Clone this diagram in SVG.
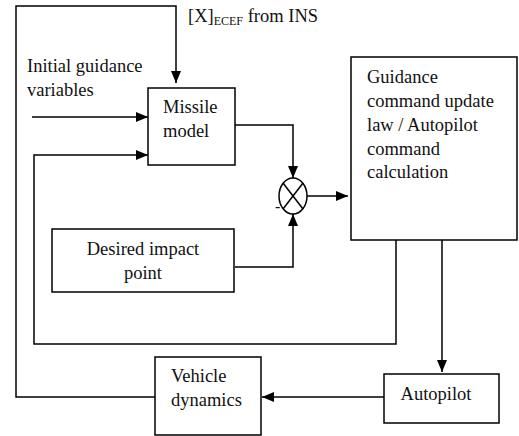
<svg xmlns="http://www.w3.org/2000/svg" width="519" height="436" viewBox="0 0 519 436">
<style>
.box{fill:#fff;stroke:#000;stroke-width:1.5}
.ln{fill:none;stroke:#000;stroke-width:1.5}
text{font-family:'Liberation Serif','Times New Roman','DejaVu Serif',serif;font-size:18.5px;fill:#111}
</style>
<defs>
<marker id="ah" markerWidth="12" markerHeight="10" refX="12" refY="5" orient="auto" markerUnits="userSpaceOnUse">
<path d="M0,0 L12,5 L0,10 Z" fill="#000"/>
</marker>
</defs>
<rect width="519" height="436" fill="#fff"/>
<g id="connectors">
<polyline class="ln" points="155,397 16,397 16,6 176,6 176,83" marker-end="url(#ah)"/>
<line class="ln" x1="32" y1="117" x2="148" y2="117" marker-end="url(#ah)"/>
<polyline class="ln" points="396,240 396,344 34,344 34,155 148,155" marker-end="url(#ah)"/>
<polyline class="ln" points="235,125 293,125 293,178" marker-end="url(#ah)"/>
<polyline class="ln" points="235,267 293,267 293,214" marker-end="url(#ah)"/>
<line class="ln" x1="307" y1="196" x2="348" y2="196" marker-end="url(#ah)"/>
<line class="ln" x1="442" y1="240" x2="442" y2="372" marker-end="url(#ah)"/>
<line class="ln" x1="384" y1="397" x2="262" y2="397" marker-end="url(#ah)"/>
<text x="188" y="22">[X]<tspan style="font-size:12px" dy="3">ECEF</tspan><tspan dy="-3"> from INS</tspan></text>
<text x="27" y="72">Initial guidance</text>
<text x="27" y="96">variables</text>
</g>
<g id="missile-model">
<rect class="box" x="148" y="88" width="87" height="77"/>
<text x="163" y="113">Missile</text>
<text x="163" y="137">model</text>
</g>
<g id="sum">
<ellipse class="ln" cx="293" cy="196" rx="14" ry="18"/>
<line class="ln" x1="283" y1="183" x2="303" y2="209"/>
<line class="ln" x1="303" y1="183" x2="283" y2="209"/>
<text x="275" y="212" style="font-size:16px">-</text>
</g>
<g id="desired-impact">
<rect class="box" x="52" y="229" width="182" height="63"/>
<text x="143" y="255" text-anchor="middle">Desired impact</text>
<text x="143" y="279" text-anchor="middle">point</text>
</g>
<g id="guidance">
<rect class="box" x="351" y="57" width="166" height="183"/>
<text x="367" y="83">Guidance</text>
<text x="367" y="107">command update</text>
<text x="367" y="131">law / Autopilot</text>
<text x="367" y="155">command</text>
<text x="367" y="178">calculation</text>
</g>
<g id="autopilot">
<rect class="box" x="384" y="374" width="115" height="49"/>
<text x="436" y="400" text-anchor="middle">Autopilot</text>
</g>
<g id="vehicle-dynamics">
<rect class="box" x="155" y="357" width="106" height="78"/>
<text x="171" y="382">Vehicle</text>
<text x="171" y="406">dynamics</text>
</g>
</svg>
